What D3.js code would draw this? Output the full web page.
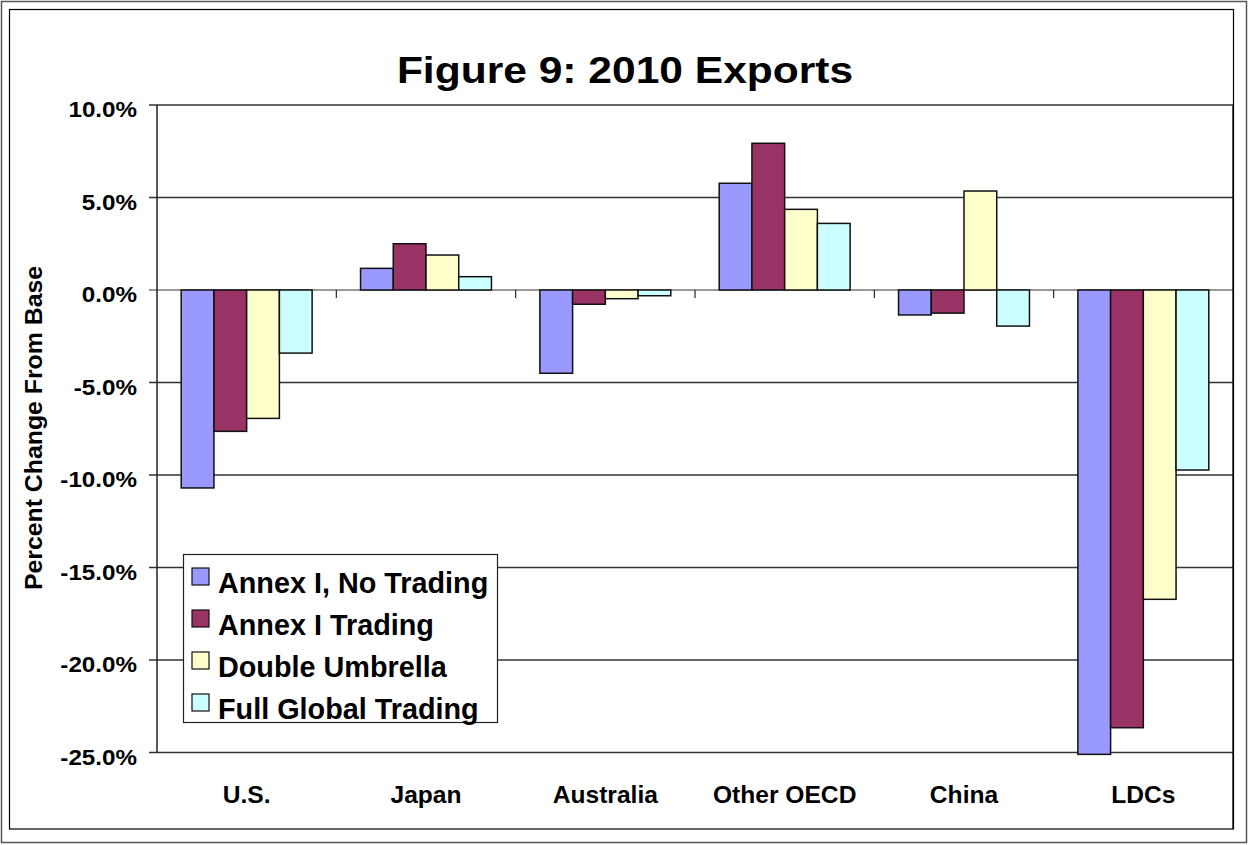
<!DOCTYPE html>
<html lang="en">
<head>
  <meta charset="UTF-8" />
  <title>Figure 9: 2010 Exports</title>
  <script src="https://d3js.org/d3.v7.min.js"></script>
  <style>
    body { margin: 0; font-family: "Liberation Sans", Arial, sans-serif; background: #fff; }
    text { font-family: "Liberation Sans", Arial, sans-serif; font-weight: bold; }
  </style>
</head>
<body>
<svg width="1249" height="845"></svg>
<script>
const regions = ["U.S.", "Japan", "Australia", "Other OECD", "China", "LDCs"];
const seriesNames = ["Annex I, No Trading", "Annex I Trading", "Double Umbrella", "Full Global Trading"];
const colors = ["#9999FF", "#993366", "#FFFFCC", "#CCFFFF"];
const annexNoTrading   = [-10.7, 1.17, -4.5, 5.77, -1.35, -25.1];
const annexTrading     = [-7.64, 2.50, -0.77, 7.93, -1.25, -23.66];
const doubleUmbrella   = [-6.94, 1.89, -0.47, 4.36, 5.35, -16.72];
const fullGlobal       = [-3.41, 0.72, -0.31, 3.60, -1.95, -9.73];
const yTicks = [10, 5, 0, -5, -10, -15, -20, -25];

const values = [annexNoTrading, annexTrading, doubleUmbrella, fullGlobal];

const svg = d3.select("svg");
const plot = { left: 157, right: 1233, top: 105, bottom: 752.5 };

// text placed at (x,y) and stretched horizontally (the original font runs wide)
function stretch(sel, x, y, sx) {
  return sel.attr("transform", (d, i) => {
    const xx = typeof x === "function" ? x(d, i) : x;
    const yy = typeof y === "function" ? y(d, i) : y;
    return `translate(${xx},${yy}) scale(${sx},1)`;
  });
}

// chart frames
svg.append("rect").attr("x", 1.5).attr("y", 1.5).attr("width", 1245).attr("height", 841)
  .attr("fill", "none").attr("stroke", "#555").attr("stroke-width", 1.5);
svg.append("rect").attr("x", 9.5).attr("y", 9.5).attr("width", 1224).attr("height", 819.5)
  .attr("fill", "none").attr("stroke", "#000").attr("stroke-width", 1.2);

const x0 = d3.scaleBand().domain(regions).range([plot.left, plot.right])
  .paddingInner(0.27).paddingOuter(0.135);
const x1 = d3.scaleBand().domain(d3.range(4)).range([0, x0.bandwidth()]);
const y = d3.scaleLinear().domain([-25, 10]).range([plot.bottom, plot.top]);

// gridlines
svg.append("g").selectAll("line").data(yTicks).join("line")
  .attr("x1", plot.left - 8).attr("x2", plot.right)
  .attr("y1", d => y(d)).attr("y2", d => y(d))
  .attr("stroke", d => d === 0 ? "#777" : "#333").attr("stroke-width", 1.3);

// plot right edge
svg.append("line").attr("x1", plot.right).attr("x2", plot.right)
  .attr("y1", plot.top).attr("y2", 829).attr("stroke", "#000").attr("stroke-width", 1.3);

// y axis line
svg.append("line").attr("x1", plot.left).attr("x2", plot.left)
  .attr("y1", plot.top).attr("y2", plot.bottom).attr("stroke", "#222").attr("stroke-width", 1.5);

// category ticks on zero line
const bounds = regions.map(r => x0(r) - x0.step() * x0.paddingInner() / 2).slice(1);
svg.append("g").selectAll("line").data(bounds).join("line")
  .attr("x1", d => d).attr("x2", d => d)
  .attr("y1", y(0)).attr("y2", y(0) + 8)
  .attr("stroke", "#222").attr("stroke-width", 1.2);

// bars
const groups = svg.append("g").selectAll("g").data(regions).join("g")
  .attr("transform", r => `translate(${x0(r)},0)`);
groups.selectAll("rect")
  .data((r, i) => values.map((s, k) => ({ k, v: s[i] })))
  .join("rect")
  .attr("x", d => x1(d.k))
  .attr("width", x1.bandwidth())
  .attr("y", d => y(Math.max(0, d.v)))
  .attr("height", d => Math.abs(y(d.v) - y(0)))
  .attr("fill", d => colors[d.k])
  .attr("stroke", "#111").attr("stroke-width", 1.5);

// y tick labels (plain hyphen, like the original)
stretch(svg.append("g").selectAll("text").data(yTicks).join("text"), 137, d => y(d) + 12, 1.1)
  .attr("text-anchor", "end").attr("font-size", 22)
  .text(d => d3.format(".1f")(d).replace("\u2212", "-") + "%");

// x labels
stretch(svg.append("g").selectAll("text").data(regions).join("text"),
    r => x0(r) + x0.bandwidth() / 2, 803, 1.07)
  .attr("text-anchor", "middle").attr("font-size", 23)
  .text(d => d);

// title
svg.append("text").attr("transform", "translate(625,83) scale(1.15,1)").attr("text-anchor", "middle")
  .attr("font-size", 37).text("Figure 9: 2010 Exports");

// y axis title
svg.append("text").attr("transform", "translate(41.5,428) rotate(-90) scale(1.08,1)")
  .attr("text-anchor", "middle").attr("font-size", 23).text("Percent Change From Base");

// legend
const legend = svg.append("g");
legend.append("rect").attr("x", 183.5).attr("y", 554.5).attr("width", 314).attr("height", 168)
  .attr("fill", "#fff").attr("stroke", "#222").attr("stroke-width", 1.2);
const items = legend.selectAll("g").data(seriesNames).join("g")
  .attr("transform", (d, i) => `translate(0,${i * 42})`);
items.append("rect").attr("x", 192).attr("y", 568).attr("width", 17).attr("height", 17)
  .attr("fill", (d, i) => colors[i]).attr("stroke", "#111").attr("stroke-width", 1.2);
stretch(items.append("text"), 218, 592.5, 0.96)
  .attr("font-size", 30).text(d => d);
</script>
</body>
</html>
